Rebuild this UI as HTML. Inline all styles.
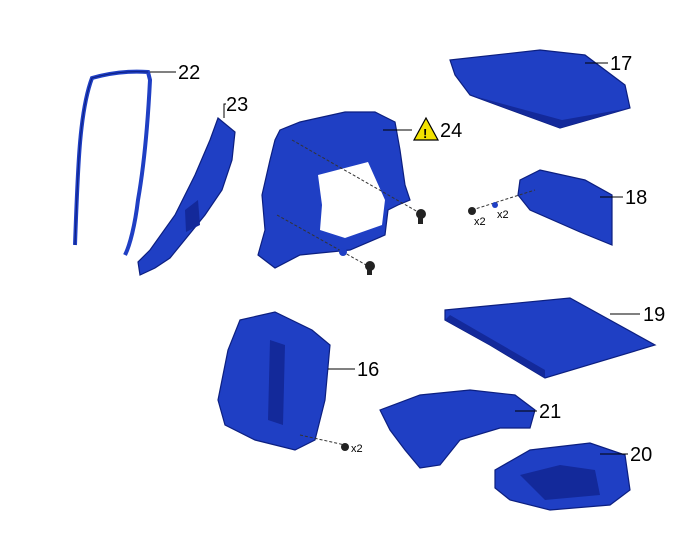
<!DOCTYPE html>
<html><head><meta charset="utf-8"><style>
html,body{margin:0;padding:0;background:#fff;}
svg{display:block;}
text{font-family:"Liberation Sans",sans-serif;fill:#000;}
.n{font-size:20px;}
.s{font-size:11px;}
.p{fill:#1f3fc4;stroke:#0c1f80;stroke-width:1.2;}
.d{fill:#13299a;}
.l{stroke:#000;stroke-width:1;fill:none;}
.ds{stroke:#333;stroke-width:1;stroke-dasharray:3,2;fill:none;}
</style></head><body>
<svg width="688" height="560" viewBox="0 0 688 560">
<!-- 22 weatherstrip -->
<path d="M75,245 C78,160 80,110 92,78 Q120,70 148,72 L150,80 C148,120 145,160 138,200 C135,225 130,245 125,255" fill="none" stroke="#1f3fc4" stroke-width="4"/>
<path d="M75,245 C78,160 80,110 92,78 Q120,70 148,72" fill="none" stroke="#0c1f80" stroke-width="1"/>
<line class="l" x1="150" y1="72" x2="176" y2="72"/>
<text class="n" x="178" y="79">22</text>
<!-- 23 -->
<path class="p" d="M218,118 L235,132 L232,160 L222,190 L205,215 L170,258 L155,268 L140,275 L138,262 L150,250 L175,215 L195,175 L210,140 Z"/>
<path class="d" d="M185,210 L198,200 L200,225 L186,232 Z"/>
<polyline class="l" points="224,118 224,104 226,104"/>
<text class="n" x="226" y="111">23</text>
<!-- 24 -->
<path class="p" d="M280,130 L300,122 L345,112 L375,112 L395,122 L400,150 L405,185 L410,200 L398,205 L388,210 L385,235 L350,250 L300,255 L275,268 L258,255 L265,230 L262,195 L270,160 L275,140 Z"/>
<path fill="#fff" d="M318,175 L368,162 L385,200 L382,225 L345,238 L320,230 L322,205 Z"/>
<line class="ds" x1="292" y1="140" x2="418" y2="212"/>
<line class="ds" x1="277" y1="215" x2="368" y2="266"/>
<circle cx="421" cy="214" r="5" fill="#222"/><rect x="418" y="214" width="5" height="10" fill="#222"/>
<circle cx="370" cy="266" r="5" fill="#222"/><rect x="367" y="266" width="5" height="9" fill="#222"/>
<circle cx="343" cy="252" r="4" fill="#1f3fc4"/>
<line class="l" x1="383" y1="130" x2="412" y2="130"/>
<polygon points="414,140 426,118 438,140" fill="#f2e200" stroke="#000" stroke-width="1.2"/>
<text x="423" y="138" style="font-size:13px;font-weight:bold">!</text>
<text class="n" x="440" y="137">24</text>
<!-- 17 -->
<path class="p" d="M450,60 L540,50 L585,55 L625,85 L630,108 L560,128 L470,95 L455,75 Z"/>
<path class="d" d="M470,95 L560,128 L630,108 L562,120 Z"/>
<line class="l" x1="585" y1="63" x2="608" y2="63"/>
<text class="n" x="610" y="70">17</text>
<!-- 18 -->
<path class="p" d="M520,180 L540,170 L585,180 L612,195 L612,245 L580,232 L530,210 L518,195 Z"/>
<line class="ds" x1="472" y1="210" x2="535" y2="190"/>
<circle cx="472" cy="211" r="4" fill="#222"/><circle cx="495" cy="205" r="3" fill="#1f3fc4"/>
<text class="s" x="474" y="225">x2</text>
<text class="s" x="497" y="218">x2</text>
<line class="l" x1="600" y1="197" x2="623" y2="197"/>
<text class="n" x="625" y="204">18</text>
<!-- 19 -->
<path class="p" d="M445,310 L570,298 L655,345 L545,378 L490,345 L445,320 Z"/>
<path class="d" d="M445,320 L490,345 L545,378 L545,370 L450,315 Z"/>
<line class="l" x1="610" y1="314" x2="640" y2="314"/>
<text class="n" x="643" y="321">19</text>
<!-- 16 seat -->
<path class="p" d="M240,320 L275,312 L312,330 L330,345 L325,400 L315,440 L295,450 L255,440 L225,425 L218,400 L228,350 Z"/>
<path class="d" d="M270,340 L285,345 L283,425 L268,420 Z"/>
<line class="ds" x1="300" y1="435" x2="345" y2="445"/>
<circle cx="345" cy="447" r="4" fill="#222"/>
<text class="s" x="351" y="452">x2</text>
<line class="l" x1="328" y1="369" x2="355" y2="369"/>
<text class="n" x="357" y="376">16</text>
<!-- 21 -->
<path class="p" d="M380,410 L420,395 L470,390 L515,395 L535,410 L530,428 L500,428 L460,440 L440,465 L420,468 L405,450 L390,430 Z"/>
<line class="l" x1="515" y1="411" x2="537" y2="411"/>
<text class="n" x="539" y="418">21</text>
<!-- 20 -->
<path class="p" d="M495,470 L530,450 L590,443 L625,455 L630,490 L610,505 L550,510 L510,500 L495,488 Z"/>
<path class="d" d="M520,475 L560,465 L595,470 L600,495 L545,500 Z"/>
<line class="l" x1="600" y1="454" x2="628" y2="454"/>
<text class="n" x="630" y="461">20</text>
</svg>
</body></html>
